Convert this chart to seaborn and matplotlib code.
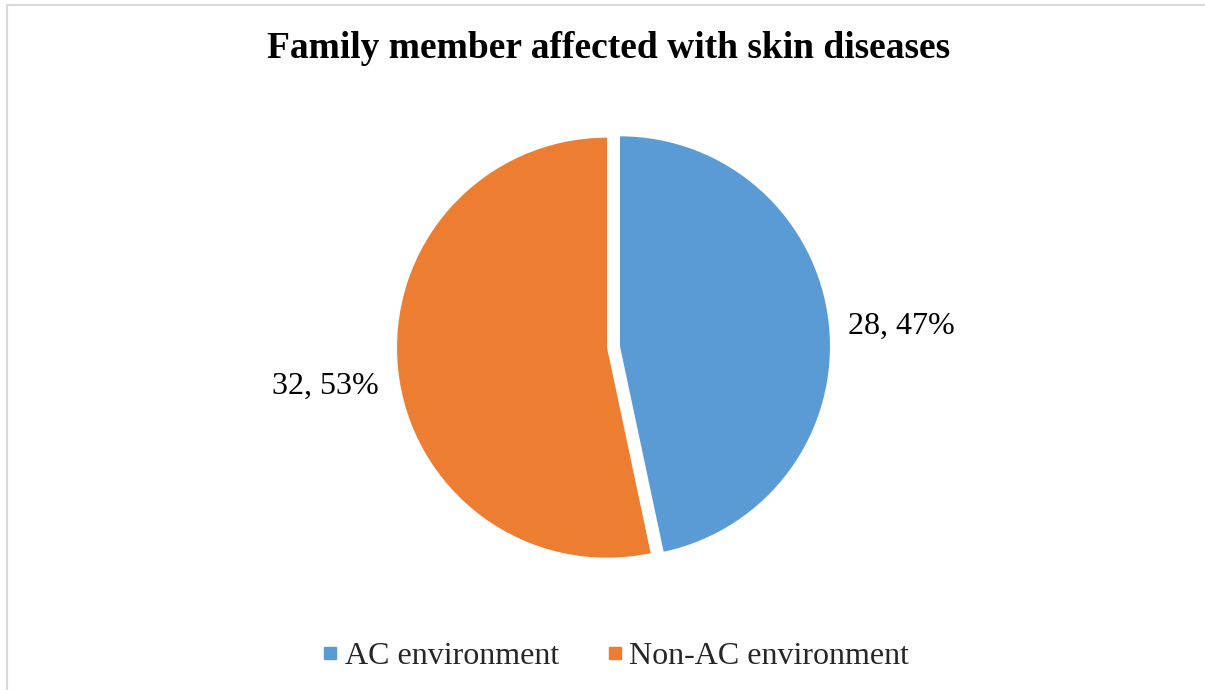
import matplotlib
matplotlib.use("Agg")
import matplotlib.pyplot as plt
from matplotlib.lines import Line2D
import numpy as np
import seaborn as sns

categories = ["AC environment", "Non-AC environment"]
counts = [28, 32]
percents = [47, 53]
title = "Family member affected with skin diseases"

sns.set_theme(style="white")
plt.rcParams["font.family"] = ["Liberation Serif", "DejaVu Serif"]

colors = ["#5B9BD5", "#ED7D31"]

W, H = 1205, 690
fig = plt.figure(figsize=(W / 100, H / 100), dpi=100)
fig.patch.set_facecolor("white")

# pie axes: 210 px per unit, centre at (613.5, 347) from top
scale = 210
half = 1.1
cx, cy = 613.5, H - 347
size = 2 * half * scale
ax = fig.add_axes([(cx - size / 2) / W, (cy - size / 2) / H, size / W, size / H])

labels = [f"{c}, {p}%" for c, p in zip(counts, percents)]
wedges = ax.pie(
    counts,
    colors=colors,
    startangle=90,
    counterclock=False,
    explode=[0.031, 0.031],
    wedgeprops={"linewidth": 0},
)[0]
for w, lab in zip(wedges, labels):
    mid = np.deg2rad((w.theta1 + w.theta2) / 2)
    ax.text(1.38 * np.cos(mid), 1.38 * np.sin(mid) - 0.045, lab, ha="center", va="center",
            fontsize=23, color="black")
ax.set_xlim(-half, half)
ax.set_ylim(-half, half)
ax.set_aspect("equal")
ax.axis("off")

fig.text(608.5 / W, 1 - 49 / H, title, ha="center", va="center",
         fontsize=27, fontweight="bold", color="black")

handles = [Line2D([0], [0], marker="s", linestyle="none", markersize=9,
                  markerfacecolor=c, markeredgecolor=c) for c in colors]
leg = fig.legend(handles, categories, loc="center", bbox_to_anchor=(614 / W, 1 - 656 / H),
                 ncol=2, frameon=False, fontsize=23, handlelength=0.7,
                 handletextpad=0.1, columnspacing=1.4)

# chart border (left and top visible)
border = "#D9D9D9"
fig.add_artist(Line2D([6.5 / W, 6.5 / W], [0, 1 - 4.5 / H], transform=fig.transFigure,
                      color=border, linewidth=1.5))
fig.add_artist(Line2D([6.5 / W, 1], [1 - 4.5 / H, 1 - 4.5 / H], transform=fig.transFigure,
                      color=border, linewidth=1.5))

fig.savefig("out.png", dpi=100, facecolor="white")
